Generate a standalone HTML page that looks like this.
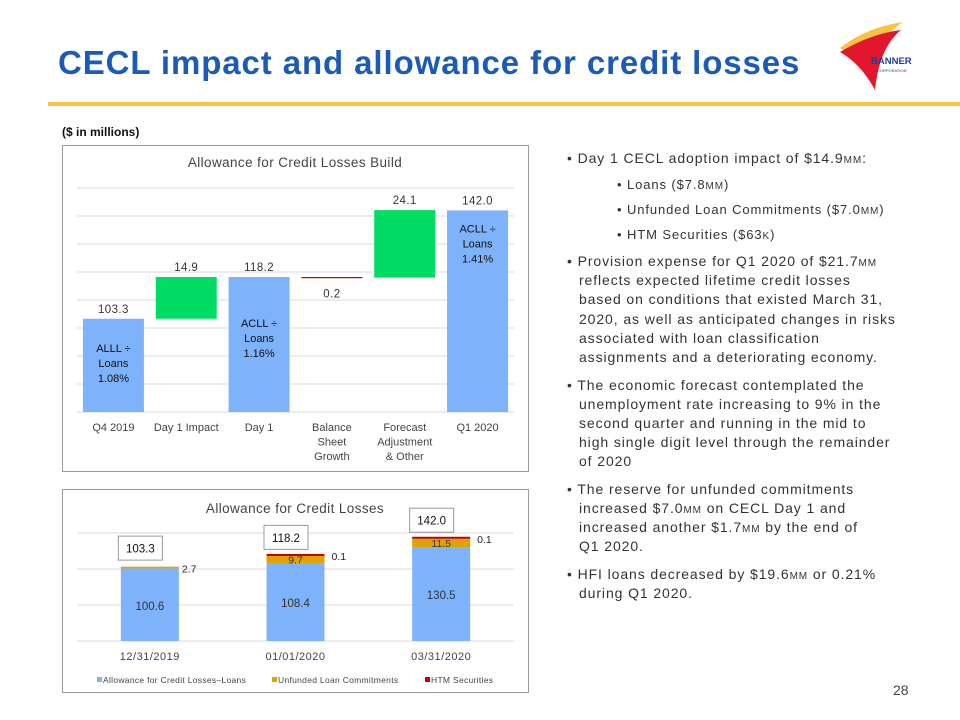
<!DOCTYPE html>
<html><head><meta charset="utf-8"><style>
body{margin:0;width:960px;height:720px;background:#fff;overflow:hidden;font-family:"Liberation Sans",sans-serif;}
.t{position:absolute;white-space:nowrap;font-size:14px;color:#222;}
</style></head><body>
<div style="position:relative;width:960px;height:720px;">
<div class="t" style="left:58px;top:44px;font-size:33px;font-weight:bold;color:#1a5bb8;letter-spacing:0.9px;">CECL impact and allowance for credit losses</div>
<div style="position:absolute;left:48px;top:102px;width:912px;height:4px;background:#f6c343;"></div>
<svg style="position:absolute;left:835px;top:18px" width="110" height="80" viewBox="0 0 110 80">
<path d="M5,30 Q30,10 68,4 Q45,18 36,62 Q22,40 5,30Z" fill="#f6c343"/>
<path d="M5,34 Q35,16 66,12 Q44,30 40,72 Q26,46 5,34Z" fill="#e3162e"/>
<text x="36" y="46" font-size="9.5" font-weight="bold" fill="#1a3f9b" font-family="Liberation Sans">BANNER</text>
<text x="42" y="54" font-size="4" fill="#1a3f9b" font-family="Liberation Sans">CORPORATION</text>
</svg>
<div class="t" style="left:62px;top:125px;font-size:12px;font-weight:bold;color:#111;">($ in millions)</div>

<svg id="c1" style="position:absolute;left:0;top:0" width="540" height="720"></svg>

<div id="txt"></div>
<div class="t" style="left:893px;top:682px;font-size:14px;color:#444;">28</div>
</div>
<script>
// Waterfall data
const wfCats=[["Q4 2019"],["Day 1 Impact"],["Day 1"],["Balance","Sheet","Growth"],["Forecast","Adjustment","& Other"],["Q1 2020"]];
const wfValues=[103.3,14.9,118.2,0.2,24.1,142.0];
const wfTypes=["total","up","total","down","up","total"];
const wfLabels=["103.3","14.9","118.2","0.2","24.1","142.0"];
const wfInner=[["ALLL ÷","Loans","1.08%"],null,["ACLL ÷","Loans","1.16%"],null,null,["ACLL ÷","Loans","1.41%"]];
const wfTicks=[70,80,90,100,110,120,130,140,150];
// Stacked data
const stCats=["12/31/2019","01/01/2020","03/31/2020"];
const stLoans=[100.6,108.4,130.5];
const stUnfunded=[2.7,9.7,11.5];
const stHTM=[0,0.1,0.1];
const stTotals=["103.3","118.2","142.0"];
const stUnfLabels=["2.7","9.7","11.5"];
const stHTMLabels=["","0.1","0.1"];
const stTicks=[0,50,100,150];

const NS="http://www.w3.org/2000/svg";
const svg=document.getElementById('c1');
function mk(tag,attrs,name,text){const e=document.createElementNS(NS,tag);for(const k in attrs)e.setAttribute(k,attrs[k]);


if(text!==undefined)e.textContent=text;svg.appendChild(e);return e;}
const F="Liberation Sans";
mk('rect',{x:62.5,y:145.5,width:466,height:326,fill:'#fff',stroke:'#9a9a9a'},'waterfall-frame');
mk('text',{x:295,y:167,'text-anchor':'middle','font-size':13.5,fill:'#444','font-family':F,'letter-spacing':0.4},'waterfall-title','Allowance for Credit Losses Build');
const y1=v=>412-(v-70)*2.8, x0=77, bw=72.83;
wfTicks.forEach(t=>mk('line',{x1:77,x2:514,y1:y1(t),y2:y1(t),stroke:'#d9d9d9'},'gridline'));
let run=0;
wfValues.forEach((v,i)=>{const cx=x0+bw*(i+0.5);let top,bot,col;
 if(wfTypes[i]=="total"){run=v;top=v;bot=70;col='#7eb2fa';}
 else if(wfTypes[i]=="up"){bot=run;run+=v;top=run;col='#00dc64';}
 else{top=run;run-=v;bot=run;col='#c00000';}
 let h=y1(bot)-y1(top); if(h<1.2)h=1.2;
 mk('rect',{x:cx-30.5,y:y1(top),width:61,height:h,fill:col},'bar-'+i);
 const ly=wfTypes[i]=="down"?y1(bot)+20:y1(top)-6;
 mk('text',{x:cx,y:ly,'text-anchor':'middle','font-size':11.5,fill:'#333','font-family':F,'letter-spacing':0.4},'value-label',wfLabels[i]);
 if(wfInner[i])wfInner[i].forEach((s,j)=>mk('text',{x:cx,y:y1(top)+(i==0?33:i==2?50:22)+j*15,'text-anchor':'middle','font-size':11,fill:'#111','font-family':F},'bar-annotation',s));
 wfCats[i].forEach((s,j)=>mk('text',{x:cx,y:431+j*14.5,'text-anchor':'middle','font-size':11,fill:'#444','font-family':F},'x-label',s));
});
mk('rect',{x:62.5,y:489.5,width:466,height:203,fill:'#fff',stroke:'#9a9a9a'},'stacked-frame');
mk('text',{x:295,y:513,'text-anchor':'middle','font-size':13.5,fill:'#444','font-family':F,'letter-spacing':0.4},'stacked-title','Allowance for Credit Losses');
const y2=v=>641-v*0.72, bw2=145.67;
stTicks.forEach(t=>mk('line',{x1:77,x2:514,y1:y2(t),y2:y2(t),stroke:'#d9d9d9'},'gridline'));
stCats.forEach((c,i)=>{const cx=77+bw2*(i+0.5);const L=stLoans[i],U=stUnfunded[i],H=stHTM[i];
 mk('rect',{x:cx-29,y:y2(L),width:58,height:y2(0)-y2(L),fill:'#7eb2fa'},'bar-loans');
 mk('rect',{x:cx-29,y:y2(L+U),width:58,height:y2(L)-y2(L+U),fill:i==0?'#c7a64d':'#dfa300'},'bar-unfunded');
 if(H>0)mk('rect',{x:cx-29,y:y2(L+U)-2,width:58,height:2,fill:'#c00000'},'bar-htm');
 mk('text',{x:cx,y:y2(L/2)+5,'text-anchor':'middle','font-size':11.5,fill:'#333','font-family':F},'loans-label',L.toFixed(1));
 if(i==0)mk('text',{x:cx+32,y:y2(L)+4,'font-size':10.5,fill:'#222','font-family':F},'unfunded-label',stUnfLabels[i]);
 else mk('text',{x:cx,y:y2(L+U/2)+4,'text-anchor':'middle','font-size':10.5,fill:'#333','font-family':F},'unfunded-label',stUnfLabels[i]);
 if(stHTMLabels[i])mk('text',{x:cx+36,y:y2(L+U)+4,'font-size':10.5,fill:'#222','font-family':F},'htm-label',stHTMLabels[i]);
 const top=y2(L+U+H);
 mk('rect',{x:cx-31.5,y:top-30.5,width:44,height:24,fill:'#fff',stroke:'#999'},'total-box');
 mk('text',{x:cx-9.5,y:top-14,'text-anchor':'middle','font-size':11.5,fill:'#111','font-family':F},'total-label',stTotals[i]);
 mk('text',{x:cx,y:660,'text-anchor':'middle','font-size':11,fill:'#444','font-family':F,'letter-spacing':0.5},'x-label',c);
});
const leg=[["Allowance for Credit Losses–Loans",'#7eb2fa',97],["Unfunded Loan Commitments",'#dfa300',272],["HTM Securities",'#c00000',425]];
leg.forEach(l=>{mk('rect',{x:l[2],y:677,width:5,height:5,fill:l[1]},'legend-swatch');
 mk('text',{x:l[2]+6,y:683,'font-size':8.5,fill:'#444','font-family':F,'letter-spacing':0.3},'legend-entry',l[0]);});

const lines=[
[567,163,"• Day 1 CECL adoption impact of $14.9<small>MM</small>:"],
[617,190,"• Loans ($7.8<small>MM</small>)"],
[617,215,"• Unfunded Loan Commitments ($7.0<small>MM</small>)"],
[617,240,"• HTM Securities ($63<small>K</small>)"],
[567,266,"• Provision expense for Q1 2020 of $21.7<small>MM</small>"],
[579,285,"reflects expected lifetime credit losses"],
[579,304,"based on conditions that existed March 31,"],
[579,324,"2020, as well as anticipated changes in risks"],
[579,343,"associated with loan classification"],
[579,362,"assignments and a deteriorating economy."],
[567,390,"• The economic forecast contemplated the"],
[579,409,"unemployment rate increasing to 9% in the"],
[579,428,"second quarter and running in the mid to"],
[579,447,"high single digit level through the remainder"],
[579,466,"of 2020"],
[567,494,"• The reserve for unfunded commitments"],
[579,513,"increased $7.0<small>MM</small> on CECL Day 1 and"],
[579,532,"increased another $1.7<small>MM</small> by the end of"],
[579,551,"Q1 2020."],
[567,579,"• HFI loans decreased by $19.6<small>MM</small> or 0.21%"],
[579,598,"during Q1 2020."]];
const txt=document.getElementById('txt');
lines.forEach(l=>{const d=document.createElement('div');d.className='t';d.style.left=l[0]+'px';d.style.top=(l[1]-13)+'px';
 d.style.fontSize=(l[0]==617?'13px':'14px');d.style.letterSpacing='0.9px';d.style.color='#333';
 d.innerHTML=l[2].replace(/<small>/g,'<span style="font-size:10px">').replace(/<\/small>/g,'</span>');


txt.appendChild(d);});
</script>
</body></html>
